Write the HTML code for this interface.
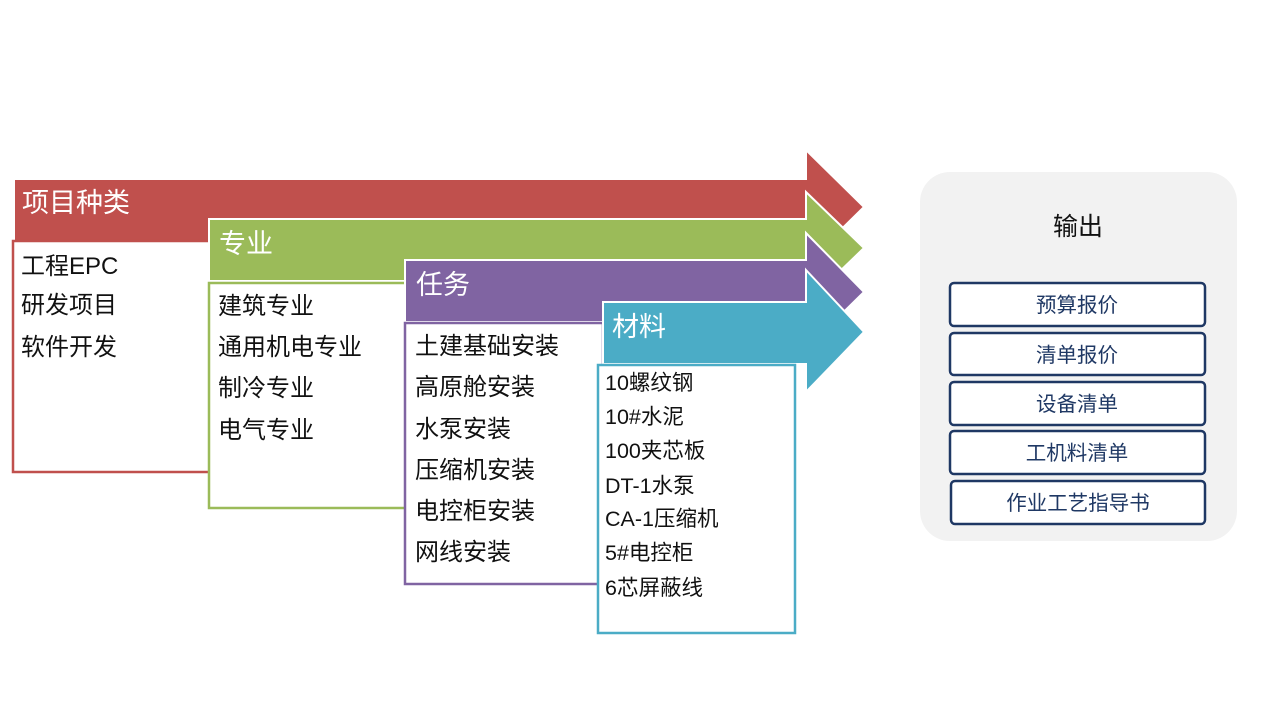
<!DOCTYPE html>
<html><head><meta charset="utf-8"><style>
html,body{margin:0;padding:0;background:#fff;}
svg{display:block;}
text{font-family:"Liberation Sans","Noto Sans CJK SC",sans-serif;}
</style></head><body>
<svg width="1280" height="720" xmlns="http://www.w3.org/2000/svg">
<!-- red -->
<polygon points="14,179 806,179 806,150 864,207 806,264 806,241 14,241" fill="#c0504d" stroke="#fff" stroke-width="2"/>
<rect x="13" y="241" width="197" height="231" fill="#fff" stroke="#c0504d" stroke-width="2.5"/>
<text x="22" y="212" font-size="27" fill="#fff">项目种类</text>
<g font-size="24" fill="#111"><text x="21" y="274">工程EPC</text><text x="21" y="313">研发项目</text><text x="21" y="355">软件开发</text></g>
<!-- green -->
<polygon points="209,219 806,219 806,192 864,248 806,304 806,281 209,281" fill="#9bbb59" stroke="#fff" stroke-width="2"/>
<rect x="209" y="283" width="197" height="225" fill="#fff" stroke="#9bbb59" stroke-width="2.5"/>
<text x="219" y="253" font-size="27" fill="#fff">专业</text>
<g font-size="24" fill="#111"><text x="218" y="314">建筑专业</text><text x="218" y="355">通用机电专业</text><text x="218" y="396">制冷专业</text><text x="218" y="438">电气专业</text></g>
<!-- purple -->
<polygon points="405,260 806,260 806,233 864,292 806,349 806,322 405,322" fill="#8064a2" stroke="#fff" stroke-width="2"/>
<rect x="405" y="323" width="198" height="261" fill="#fff" stroke="#8064a2" stroke-width="2.5"/>
<text x="416" y="294" font-size="27" fill="#fff">任务</text>
<g font-size="24" fill="#111"><text x="415" y="354">土建基础安装</text><text x="415" y="395">高原舱安装</text><text x="415" y="437">水泵安装</text><text x="415" y="478">压缩机安装</text><text x="415" y="519">电控柜安装</text><text x="415" y="560">网线安装</text></g>
<!-- blue -->
<polygon points="603,302 806,302 806,270 864,332 806,392 806,364 603,364" fill="#4bacc6" stroke="#fff" stroke-width="2"/>
<rect x="598" y="365" width="197" height="268" fill="#fff" stroke="#4bacc6" stroke-width="2.5"/>
<text x="612" y="336" font-size="27" fill="#fff">材料</text>
<g font-size="21.5" fill="#111"><text x="605" y="390">10螺纹钢</text><text x="605" y="424">10#水泥</text><text x="605" y="458">100夹芯板</text><text x="605" y="493">DT-1水泵</text><text x="605" y="526">CA-1压缩机</text><text x="605" y="560">5#电控柜</text><text x="605" y="595">6芯屏蔽线</text></g>
<!-- output -->
<rect x="920" y="172" width="317" height="369" rx="30" fill="#f2f2f2"/>
<text x="1078" y="235" font-size="25" fill="#111" text-anchor="middle">输出</text>
<g fill="#fff" stroke="#1f3864" stroke-width="2.5">
<rect x="950" y="283" width="255" height="43" rx="4"/>
<rect x="950" y="333" width="255" height="42" rx="4"/>
<rect x="950" y="382" width="255" height="43" rx="4"/>
<rect x="950" y="431" width="255" height="43" rx="4"/>
<rect x="951" y="481" width="254" height="43" rx="4"/>
</g>
<g font-size="20.5" fill="#1f3864" text-anchor="middle">
<text x="1077" y="312">预算报价</text><text x="1077" y="362">清单报价</text><text x="1077" y="411">设备清单</text><text x="1077" y="460">工机料清单</text><text x="1078" y="510">作业工艺指导书</text>
</g>
</svg>
</body></html>
